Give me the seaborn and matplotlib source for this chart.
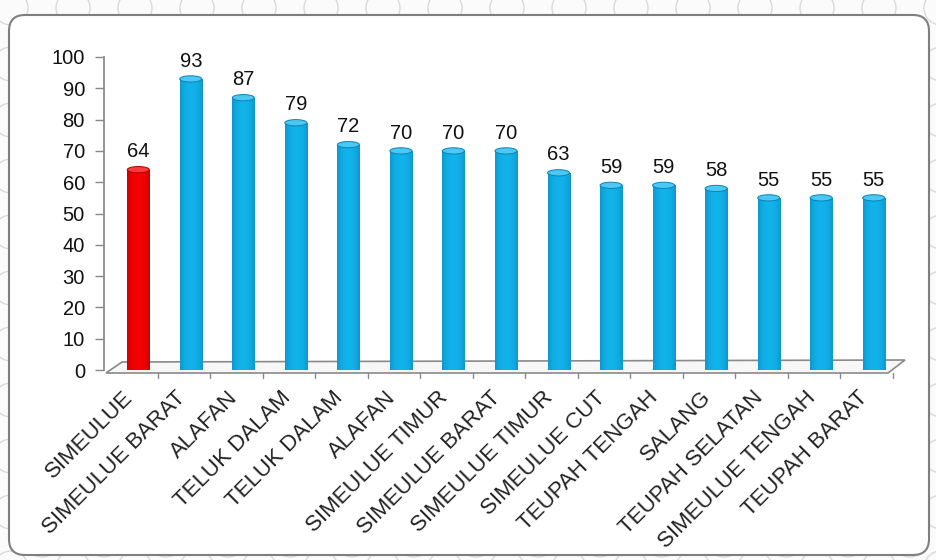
import numpy as np
import pandas as pd
import matplotlib
matplotlib.use("Agg")
import matplotlib.pyplot as plt
import matplotlib.transforms as mtransforms
from matplotlib.patches import FancyBboxPatch, Ellipse, Polygon, Circle
import seaborn as sns

categories = ["SIMEULUE", "SIMEULUE BARAT", "ALAFAN", "TELUK DALAM", "TELUK DALAM",
              "ALAFAN", "SIMEULUE TIMUR", "SIMEULUE BARAT", "SIMEULUE TIMUR",
              "SIMEULUE CUT", "TEUPAH TENGAH", "SALANG", "TEUPAH SELATAN",
              "SIMEULUE TENGAH", "TEUPAH BARAT"]
values = [64, 93, 87, 79, 72, 70, 70, 70, 63, 59, 59, 58, 55, 55, 55]
group = ["kab"] + ["kec"] * 14
yticks = list(range(0, 101, 10))

W, H = 937, 560
FS = 14.5
FS_CAT = 16
sns.set_theme(style="white")
plt.rcParams["font.family"] = ["Liberation Sans", "DejaVu Sans"]

fig = plt.figure(figsize=(W / 100, H / 100), dpi=100)
fig.patch.set_facecolor("#fbfbfb")

# decoration layer in pixel coordinates
deco = fig.add_axes([0, 0, 1, 1], zorder=0)
deco.set_xlim(0, W)
deco.set_ylim(H, 0)
deco.axis("off")
for gx in np.arange(-20, W + 60, 62):
    for gy in np.arange(-20, H + 60, 56):
        for dx, dy in [(0, 0), (31, 28)]:
            deco.add_patch(Circle((gx + dx, gy + dy), 17, facecolor="none",
                                  edgecolor="#dadada", linewidth=1.0))
panel = FancyBboxPatch((9, 15), 920, 540, boxstyle="round,pad=0,rounding_size=16",
                       facecolor="white", edgecolor="#7f7f7f", linewidth=1.5,
                       zorder=3)
deco.add_patch(panel)

# main axes
x0, x1 = 112, 900
yb, yt = 370, 57
ax = fig.add_axes([x0 / W, (H - yb) / H, (x1 - x0) / W, (yb - yt) / H], zorder=2)
ax.patch.set_alpha(0)

df = pd.DataFrame({"cat": [f"{i}" for i in range(len(categories))],
                   "label": categories, "value": values, "group": group})
palette = {"kab": "#f40000", "kec": "#12b2ea"}
sns.barplot(data=df, x="cat", y="value", hue="group", palette=palette,
            dodge=False, width=0.42, legend=False, ax=ax, saturation=1)

dark = {"kab": "#b00000", "kec": "#0a84b8"}
light = {"kab": "#ff3a3a", "kec": "#4cc8f2"}
bars = sorted(ax.patches, key=lambda r: r.get_x())
for p, (_, row) in zip(bars, df.iterrows()):
    p.set_edgecolor("none")
    x = p.get_x(); w = p.get_width(); h = p.get_height()
    grad = np.linspace(-1, 1, 64)
    shade = 1 - 0.55 * np.abs(grad) ** 2.2
    base = np.array(matplotlib.colors.to_rgb(palette[row["group"]]))
    dk = np.array(matplotlib.colors.to_rgb(dark[row["group"]]))
    img = base[None, :] * shade[:, None] + dk[None, :] * (1 - shade[:, None])
    im = ax.imshow(img[None, :, :], extent=(x, x + w, 0, h), aspect="auto",
                   zorder=p.get_zorder() + 0.1, interpolation="bilinear")
    im.set_clip_path(p)
    ax.add_patch(Ellipse((x + w / 2, h), w, 2.0, facecolor=light[row["group"]],
                         edgecolor=dk, linewidth=0.7, zorder=p.get_zorder() + 0.2))
    ax.add_patch(Ellipse((x + w / 2, 0), w, 2.0, facecolor=dk,
                         edgecolor="none", zorder=p.get_zorder() - 0.1))
    ax.annotate(f"{row['value']}", (x + w / 2, h), xytext=(0, 6),
                textcoords="offset points", ha="center", va="bottom",
                fontsize=FS, color="#111111")

ax.set_xlim(-0.5, len(categories) - 0.5)
ax.set_ylim(0, 100)
ax.tick_params(axis="x", length=0, labelbottom=False)
ax.tick_params(axis="y", length=6.5, width=1, color="#888888", direction="out",
               left=True, pad=7, labelsize=FS, labelcolor="#111111")
ax.set_xticks(range(len(categories)))
ax.set_yticks(yticks)
ax.set_yticklabels([str(v) for v in yticks], fontsize=FS)
ax.set_xlabel(""); ax.set_ylabel("")
for s in ["top", "right", "bottom"]:
    ax.spines[s].set_visible(False)
ax.spines["left"].set_color("#888888")
ax.spines["left"].set_position(("outward", 6))
ax.spines["left"].set_bounds(0, 100)

# category labels, rotated like the original
lab_tr = ax.get_xaxis_transform() + mtransforms.ScaledTranslation(
    -16 / 100, -17 / 100, fig.dpi_scale_trans)
for i, lab in enumerate(categories):
    ax.text(i, 0, lab, transform=lab_tr, rotation=45, ha="right", va="top",
            rotation_mode="anchor", fontsize=FS_CAT, color="#222222")

# 3D floor
fl = fig.add_axes([0, 0, 1, 1], zorder=1)
fl.set_xlim(0, W); fl.set_ylim(H, 0); fl.axis("off"); fl.patch.set_alpha(0)
fl.add_patch(Polygon([(106, 373), (122, 362), (905, 360), (888, 373)], closed=True,
                     facecolor="#f7f7f7", edgecolor="#8a8a8a", linewidth=1.2))
step = (x1 - x0) / len(categories)
for i in range(len(categories) + 1):
    tx = x0 - 7 + i * step
    if tx < 108:
        continue
    fl.plot([tx, tx], [373, 378], color="#8a8a8a", lw=1)

fig.savefig("out.png", dpi=100, facecolor=fig.get_facecolor())
